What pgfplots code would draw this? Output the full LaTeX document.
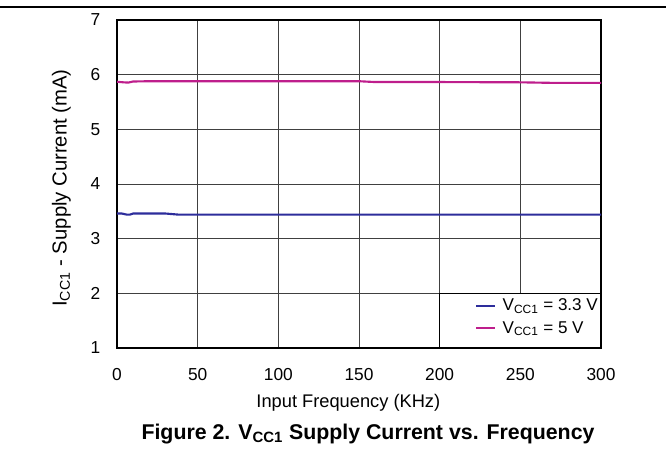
\documentclass[border=0pt]{standalone}
\usepackage{fontspec}
\setmainfont{Liberation Sans}
\usepackage{pgfplots}
\pgfplotsset{compat=1.18}
\definecolor{vpink}{RGB}{190,30,140}
\definecolor{vblue}{RGB}{45,45,155}
\begin{document}
\begin{tikzpicture}[x=1pt,y=1pt]
\useasboundingbox (0,0) rectangle (499.5,336.75);
\draw[line width=1.1pt] (0,331.5) -- (499.5,331.5);
\begin{axis}[
  at={(87.75pt,75.75pt)}, anchor=south west,
  scale only axis, width=363pt, height=246pt,
  xmin=0, xmax=300, ymin=1, ymax=7,
  xtick={0,50,...,300}, ytick={1,2,...,7},
  grid=major,
  major grid style={black!75, line width=0.6pt},
  axis line style={line width=1.2pt},
  tick style={draw=none},
  tick label style={font=\fontsize{13}{15}\selectfont},
  /pgf/number format/assume math mode=true,
  xticklabel style={yshift=-12pt},
  yticklabel style={xshift=-9pt},
  xlabel={Input Frequency (KHz)},
  ylabel={I\textsubscript{CC1} - Supply Current (mA)},
  xlabel style={font=\fontsize{13.7}{16}\selectfont, yshift=-3pt, xshift=-8pt},
  ylabel style={font=\fontsize{15.2}{18}\selectfont, yshift=8pt, xshift=-3pt},
  legend style={at={(axis cs:221,1.98)}, anchor=north west, draw=none, fill=none,
    font=\fontsize{12.8}{15}\selectfont, row sep=2.5pt, inner sep=1pt,
    /tikz/every odd column/.append style={column sep=3pt}},
  legend cell align=left,
  legend image code/.code={\draw[#1, line width=1.6pt] (0pt,0pt) -- (14pt,0pt);},
]
\draw[black, line width=0.9pt, fill=white] (axis cs:200,1) rectangle (axis cs:300,2);
\addplot[vblue, line width=1.6pt] coordinates {
(0,3.46) (3,3.46) (6,3.44) (8,3.44) (10,3.46) (20,3.46) (30,3.46) (38,3.44) (50,3.44) (100,3.44) (150,3.44) (200,3.44) (250,3.44) (300,3.44)};
\addlegendentry{V\textsubscript{CC1} = 3.3 V}
\addplot[vpink, line width=1.6pt] coordinates {
(0,5.87) (4,5.86) (7,5.855) (10,5.875) (20,5.88) (50,5.88) (100,5.88) (150,5.88) (160,5.865) (200,5.865) (250,5.86) (270,5.85) (300,5.85)};
\addlegendentry{V\textsubscript{CC1} = 5 V}
\end{axis}
\node[font=\bfseries\fontsize{16}{18}\selectfont] at (276,11.5) {Figure 2. V\textsubscript{CC1} Supply Current vs. Frequency};
\end{tikzpicture}
\end{document}
